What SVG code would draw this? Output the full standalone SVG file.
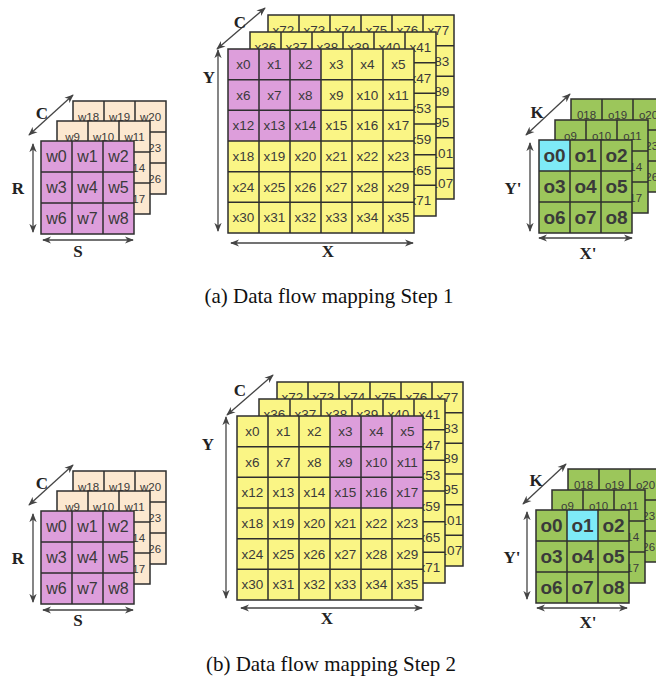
<svg xmlns="http://www.w3.org/2000/svg" xmlns:xlink="http://www.w3.org/1999/xlink" width="656" height="679" viewBox="0 0 656 679">
<style>
  .grid{fill:none;stroke:#2e2e2e;stroke-width:1.5}
  .pink{fill:#DD9EDB}
  .beige{fill:#FCE8D0}
  .yellow{fill:#FAF585}
  .green{fill:#9CC65B}
  .cyan{fill:#7EEAF7}
  text{font-family:"Liberation Sans",Arial,sans-serif;fill:#3a3a3a;text-anchor:middle;dominant-baseline:central}
  .wf{font-size:16px}
  .wb{font-size:11.5px}
  .xi{font-size:13.5px}
  .of{font-size:19px;font-weight:bold}
  .ob{font-size:11.5px}
  .lab{font-family:"Liberation Serif","Times New Roman",serif;font-weight:bold;font-size:17px;fill:#222}
  .cap{font-family:"Liberation Serif","Times New Roman",serif;font-size:21px;fill:#111;dominant-baseline:auto}
  .dim{stroke:#444;stroke-width:1.3;fill:none;marker-start:url(#ah);marker-end:url(#ah)}
</style>
<defs>
  <marker id="ah" viewBox="0 0 10 10" refX="9" refY="5" markerWidth="7" markerHeight="7" orient="auto-start-reverse">
    <path d="M0,1 L10,5 L0,9 L3,5z" fill="#444"/>
  </marker>
  <g id="g3">
    <path class="grid" d="M31 0V93M62 0V93M0 31H93M0 62H93"/>
    <rect class="grid" x="0" y="0" width="93" height="93"/>
  </g>
  <g id="g6">
    <path class="grid" d="M31 0V184M62 0V184M93 0V184M124 0V184M155 0V184M0 30.67H186M0 61.33H186M0 92H186M0 122.67H186M0 153.33H186"/>
    <rect class="grid" x="0" y="0" width="186" height="184"/>
  </g>
</defs>
<rect width="656" height="679" fill="#fff"/>

<!-- ================= STEP 1 ================= -->
<g id="weights-step1">
  <g id="w1-back" transform="translate(73,101)">
    <rect class="beige" width="93" height="93"/><use xlink:href="#g3"/>
    <text class="wb" x="15.5" y="15.5">w18</text><text class="wb" x="46.5" y="15.5">w19</text><text class="wb" x="77.5" y="15.5">w20</text>
    <text class="wb" x="77.5" y="46.5">w23</text><text class="wb" x="77.5" y="77.5">w26</text>
  </g>
  <g id="w1-mid" transform="translate(57,121)">
    <rect class="beige" width="93" height="93"/><use xlink:href="#g3"/>
    <text class="wb" x="15.5" y="15.5">w9</text><text class="wb" x="46.5" y="15.5">w10</text><text class="wb" x="77.5" y="15.5">w11</text>
    <text class="wb" x="77.5" y="46.5">w14</text><text class="wb" x="77.5" y="77.5">w17</text>
  </g>
  <g id="w1-front" transform="translate(41,141)">
    <rect class="pink" width="93" height="93"/><use xlink:href="#g3"/>
    <text class="wf" x="15.5" y="15.5">w0</text><text class="wf" x="46.5" y="15.5">w1</text><text class="wf" x="77.5" y="15.5">w2</text>
    <text class="wf" x="15.5" y="46.5">w3</text><text class="wf" x="46.5" y="46.5">w4</text><text class="wf" x="77.5" y="46.5">w5</text>
    <text class="wf" x="15.5" y="77.5">w6</text><text class="wf" x="46.5" y="77.5">w7</text><text class="wf" x="77.5" y="77.5">w8</text>
  </g>
</g>

<g id="inputs-step1">
  <g id="i1-back" transform="translate(268,15)">
    <rect class="yellow" width="186" height="184"/><use xlink:href="#g6"/>
    <text class="xi" x="15.5" y="15.33">x72</text><text class="xi" x="46.5" y="15.33">x73</text><text class="xi" x="77.5" y="15.33">x74</text>
    <text class="xi" x="108.5" y="15.33">x75</text><text class="xi" x="139.5" y="15.33">x76</text><text class="xi" x="170.5" y="15.33">x77</text>
    <text class="xi" x="170.5" y="46">x83</text><text class="xi" x="170.5" y="76.67">x89</text><text class="xi" x="170.5" y="107.33">x95</text>
    <text class="xi" x="170.5" y="138">x101</text><text class="xi" x="170.5" y="168.67">x107</text>
  </g>
  <g id="i1-mid" transform="translate(250,32)">
    <rect class="yellow" width="186" height="184"/><use xlink:href="#g6"/>
    <text class="xi" x="15.5" y="15.33">x36</text><text class="xi" x="46.5" y="15.33">x37</text><text class="xi" x="77.5" y="15.33">x38</text>
    <text class="xi" x="108.5" y="15.33">x39</text><text class="xi" x="139.5" y="15.33">x40</text><text class="xi" x="170.5" y="15.33">x41</text>
    <text class="xi" x="170.5" y="46">x47</text><text class="xi" x="170.5" y="76.67">x53</text><text class="xi" x="170.5" y="107.33">x59</text>
    <text class="xi" x="170.5" y="138">x65</text><text class="xi" x="170.5" y="168.67">x71</text>
  </g>
  <g id="i1-front" transform="translate(228,49)">
    <rect class="yellow" width="186" height="184"/>
    <rect class="pink" width="93" height="92"/>
    <use xlink:href="#g6"/>
    <text class="xi" x="15.5" y="15.33">x0</text><text class="xi" x="46.5" y="15.33">x1</text><text class="xi" x="77.5" y="15.33">x2</text><text class="xi" x="108.5" y="15.33">x3</text><text class="xi" x="139.5" y="15.33">x4</text><text class="xi" x="170.5" y="15.33">x5</text>
    <text class="xi" x="15.5" y="46">x6</text><text class="xi" x="46.5" y="46">x7</text><text class="xi" x="77.5" y="46">x8</text><text class="xi" x="108.5" y="46">x9</text><text class="xi" x="139.5" y="46">x10</text><text class="xi" x="170.5" y="46">x11</text>
    <text class="xi" x="15.5" y="76.67">x12</text><text class="xi" x="46.5" y="76.67">x13</text><text class="xi" x="77.5" y="76.67">x14</text><text class="xi" x="108.5" y="76.67">x15</text><text class="xi" x="139.5" y="76.67">x16</text><text class="xi" x="170.5" y="76.67">x17</text>
    <text class="xi" x="15.5" y="107.33">x18</text><text class="xi" x="46.5" y="107.33">x19</text><text class="xi" x="77.5" y="107.33">x20</text><text class="xi" x="108.5" y="107.33">x21</text><text class="xi" x="139.5" y="107.33">x22</text><text class="xi" x="170.5" y="107.33">x23</text>
    <text class="xi" x="15.5" y="138">x24</text><text class="xi" x="46.5" y="138">x25</text><text class="xi" x="77.5" y="138">x26</text><text class="xi" x="108.5" y="138">x27</text><text class="xi" x="139.5" y="138">x28</text><text class="xi" x="170.5" y="138">x29</text>
    <text class="xi" x="15.5" y="168.67">x30</text><text class="xi" x="46.5" y="168.67">x31</text><text class="xi" x="77.5" y="168.67">x32</text><text class="xi" x="108.5" y="168.67">x33</text><text class="xi" x="139.5" y="168.67">x34</text><text class="xi" x="170.5" y="168.67">x35</text>
  </g>
</g>

<g id="outputs-step1">
  <g id="o1-back" transform="translate(571,99)">
    <rect class="green" width="93" height="93"/><use xlink:href="#g3"/>
    <text class="ob" x="15.5" y="15.5">018</text><text class="ob" x="46.5" y="15.5">o19</text><text class="ob" x="77.5" y="15.5">o20</text>
    <text class="ob" x="77.5" y="46.5">o23</text><text class="ob" x="77.5" y="77.5">o26</text>
  </g>
  <g id="o1-mid" transform="translate(555,120)">
    <rect class="green" width="93" height="93"/><use xlink:href="#g3"/>
    <text class="ob" x="15.5" y="15.5">o9</text><text class="ob" x="46.5" y="15.5">o10</text><text class="ob" x="77.5" y="15.5">o11</text>
    <text class="ob" x="77.5" y="46.5">o14</text><text class="ob" x="77.5" y="77.5">o17</text>
  </g>
  <g id="o1-front" transform="translate(539,140)">
    <rect class="green" width="93" height="93"/>
    <rect class="cyan" width="31" height="31"/>
    <use xlink:href="#g3"/>
    <text class="of" x="15.5" y="15.5">o0</text><text class="of" x="46.5" y="15.5">o1</text><text class="of" x="77.5" y="15.5">o2</text>
    <text class="of" x="15.5" y="46.5">o3</text><text class="of" x="46.5" y="46.5">o4</text><text class="of" x="77.5" y="46.5">o5</text>
    <text class="of" x="15.5" y="77.5">o6</text><text class="of" x="46.5" y="77.5">o7</text><text class="of" x="77.5" y="77.5">o8</text>
  </g>
</g>

<!-- ================= STEP 2 ================= -->
<g id="weights-step2">
  <g id="w2-back" transform="translate(73,471)">
    <rect class="beige" width="93" height="93"/><use xlink:href="#g3"/>
    <text class="wb" x="15.5" y="15.5">w18</text><text class="wb" x="46.5" y="15.5">w19</text><text class="wb" x="77.5" y="15.5">w20</text>
    <text class="wb" x="77.5" y="46.5">w23</text><text class="wb" x="77.5" y="77.5">w26</text>
  </g>
  <g id="w2-mid" transform="translate(57,491)">
    <rect class="beige" width="93" height="93"/><use xlink:href="#g3"/>
    <text class="wb" x="15.5" y="15.5">w9</text><text class="wb" x="46.5" y="15.5">w10</text><text class="wb" x="77.5" y="15.5">w11</text>
    <text class="wb" x="77.5" y="46.5">w14</text><text class="wb" x="77.5" y="77.5">w17</text>
  </g>
  <g id="w2-front" transform="translate(41,511)">
    <rect class="pink" width="93" height="93"/><use xlink:href="#g3"/>
    <text class="wf" x="15.5" y="15.5">w0</text><text class="wf" x="46.5" y="15.5">w1</text><text class="wf" x="77.5" y="15.5">w2</text>
    <text class="wf" x="15.5" y="46.5">w3</text><text class="wf" x="46.5" y="46.5">w4</text><text class="wf" x="77.5" y="46.5">w5</text>
    <text class="wf" x="15.5" y="77.5">w6</text><text class="wf" x="46.5" y="77.5">w7</text><text class="wf" x="77.5" y="77.5">w8</text>
  </g>
</g>

<g id="inputs-step2">
  <g id="i2-back" transform="translate(277,382)">
    <rect class="yellow" width="186" height="184"/><use xlink:href="#g6"/>
    <text class="xi" x="15.5" y="15.33">x72</text><text class="xi" x="46.5" y="15.33">x73</text><text class="xi" x="77.5" y="15.33">x74</text>
    <text class="xi" x="108.5" y="15.33">x75</text><text class="xi" x="139.5" y="15.33">x76</text><text class="xi" x="170.5" y="15.33">x77</text>
    <text class="xi" x="170.5" y="46">x83</text><text class="xi" x="170.5" y="76.67">x89</text><text class="xi" x="170.5" y="107.33">x95</text>
    <text class="xi" x="170.5" y="138">x101</text><text class="xi" x="170.5" y="168.67">x107</text>
  </g>
  <g id="i2-mid" transform="translate(259,399)">
    <rect class="yellow" width="186" height="184"/><use xlink:href="#g6"/>
    <text class="xi" x="15.5" y="15.33">x36</text><text class="xi" x="46.5" y="15.33">x37</text><text class="xi" x="77.5" y="15.33">x38</text>
    <text class="xi" x="108.5" y="15.33">x39</text><text class="xi" x="139.5" y="15.33">x40</text><text class="xi" x="170.5" y="15.33">x41</text>
    <text class="xi" x="170.5" y="46">x47</text><text class="xi" x="170.5" y="76.67">x53</text><text class="xi" x="170.5" y="107.33">x59</text>
    <text class="xi" x="170.5" y="138">x65</text><text class="xi" x="170.5" y="168.67">x71</text>
  </g>
  <g id="i2-front" transform="translate(237,416)">
    <rect class="yellow" width="186" height="184"/>
    <rect class="pink" x="93" width="93" height="92"/>
    <use xlink:href="#g6"/>
    <text class="xi" x="15.5" y="15.33">x0</text><text class="xi" x="46.5" y="15.33">x1</text><text class="xi" x="77.5" y="15.33">x2</text><text class="xi" x="108.5" y="15.33">x3</text><text class="xi" x="139.5" y="15.33">x4</text><text class="xi" x="170.5" y="15.33">x5</text>
    <text class="xi" x="15.5" y="46">x6</text><text class="xi" x="46.5" y="46">x7</text><text class="xi" x="77.5" y="46">x8</text><text class="xi" x="108.5" y="46">x9</text><text class="xi" x="139.5" y="46">x10</text><text class="xi" x="170.5" y="46">x11</text>
    <text class="xi" x="15.5" y="76.67">x12</text><text class="xi" x="46.5" y="76.67">x13</text><text class="xi" x="77.5" y="76.67">x14</text><text class="xi" x="108.5" y="76.67">x15</text><text class="xi" x="139.5" y="76.67">x16</text><text class="xi" x="170.5" y="76.67">x17</text>
    <text class="xi" x="15.5" y="107.33">x18</text><text class="xi" x="46.5" y="107.33">x19</text><text class="xi" x="77.5" y="107.33">x20</text><text class="xi" x="108.5" y="107.33">x21</text><text class="xi" x="139.5" y="107.33">x22</text><text class="xi" x="170.5" y="107.33">x23</text>
    <text class="xi" x="15.5" y="138">x24</text><text class="xi" x="46.5" y="138">x25</text><text class="xi" x="77.5" y="138">x26</text><text class="xi" x="108.5" y="138">x27</text><text class="xi" x="139.5" y="138">x28</text><text class="xi" x="170.5" y="138">x29</text>
    <text class="xi" x="15.5" y="168.67">x30</text><text class="xi" x="46.5" y="168.67">x31</text><text class="xi" x="77.5" y="168.67">x32</text><text class="xi" x="108.5" y="168.67">x33</text><text class="xi" x="139.5" y="168.67">x34</text><text class="xi" x="170.5" y="168.67">x35</text>
  </g>
</g>

<g id="outputs-step2">
  <g id="o2-back" transform="translate(568,469)">
    <rect class="green" width="93" height="93"/><use xlink:href="#g3"/>
    <text class="ob" x="15.5" y="15.5">018</text><text class="ob" x="46.5" y="15.5">o19</text><text class="ob" x="77.5" y="15.5">o20</text>
    <text class="ob" x="77.5" y="46.5">o23</text><text class="ob" x="77.5" y="77.5">o26</text>
  </g>
  <g id="o2-mid" transform="translate(552,490)">
    <rect class="green" width="93" height="93"/><use xlink:href="#g3"/>
    <text class="ob" x="15.5" y="15.5">o9</text><text class="ob" x="46.5" y="15.5">o10</text><text class="ob" x="77.5" y="15.5">o11</text>
    <text class="ob" x="77.5" y="46.5">o14</text><text class="ob" x="77.5" y="77.5">o17</text>
  </g>
  <g id="o2-front" transform="translate(536,510)">
    <rect class="green" width="93" height="93"/>
    <rect class="cyan" x="31" width="31" height="31"/>
    <use xlink:href="#g3"/>
    <text class="of" x="15.5" y="15.5">o0</text><text class="of" x="46.5" y="15.5">o1</text><text class="of" x="77.5" y="15.5">o2</text>
    <text class="of" x="15.5" y="46.5">o3</text><text class="of" x="46.5" y="46.5">o4</text><text class="of" x="77.5" y="46.5">o5</text>
    <text class="of" x="15.5" y="77.5">o6</text><text class="of" x="46.5" y="77.5">o7</text><text class="of" x="77.5" y="77.5">o8</text>
  </g>
</g>

<!-- ================= dimension arrows ================= -->
<g id="connectors">
  <!-- step 1 -->
  <line class="dim" x1="33" y1="144" x2="33" y2="232"/>
  <line class="dim" x1="43" y1="240" x2="133" y2="240"/>
  <line class="dim" x1="29" y1="135" x2="73" y2="95"/>
  <line class="dim" x1="218" y1="50" x2="218" y2="231"/>
  <line class="dim" x1="231" y1="243" x2="413" y2="243"/>
  <line class="dim" x1="217" y1="49" x2="265" y2="8"/>
  <line class="dim" x1="530" y1="143" x2="530" y2="231"/>
  <line class="dim" x1="539" y1="238" x2="632" y2="238"/>
  <line class="dim" x1="526" y1="135" x2="570" y2="94"/>
  <!-- step 2 -->
  <line class="dim" x1="33" y1="514" x2="33" y2="602"/>
  <line class="dim" x1="43" y1="610" x2="133" y2="610"/>
  <line class="dim" x1="29" y1="505" x2="73" y2="465"/>
  <line class="dim" x1="226" y1="417" x2="226" y2="598"/>
  <line class="dim" x1="241" y1="608" x2="422" y2="608"/>
  <line class="dim" x1="227" y1="415" x2="273" y2="375"/>
  <line class="dim" x1="527" y1="512" x2="527" y2="599"/>
  <line class="dim" x1="537" y1="608" x2="627" y2="608"/>
  <line class="dim" x1="523" y1="504" x2="566" y2="464"/>
</g>

<g id="labels">
  <text class="lab" x="18" y="188">R</text>
  <text class="lab" x="78" y="251">S</text>
  <text class="lab" x="42" y="113">C</text>
  <text class="lab" x="209" y="77">Y</text>
  <text class="lab" x="328" y="251">X</text>
  <text class="lab" x="240" y="22">C</text>
  <text class="lab" x="513" y="188">Y'</text>
  <text class="lab" x="588" y="253">X'</text>
  <text class="lab" x="537" y="112">K</text>

  <text class="lab" x="18" y="558">R</text>
  <text class="lab" x="78" y="620">S</text>
  <text class="lab" x="42" y="483">C</text>
  <text class="lab" x="208" y="444">Y</text>
  <text class="lab" x="327" y="618">X</text>
  <text class="lab" x="240" y="390">C</text>
  <text class="lab" x="512" y="557">Y'</text>
  <text class="lab" x="588" y="622">X'</text>
  <text class="lab" x="536" y="480">K</text>

  <text class="cap" x="329" y="303">(a) Data flow mapping Step 1</text>
  <text class="cap" x="331" y="671">(b) Data flow mapping Step 2</text>
</g>
</svg>
